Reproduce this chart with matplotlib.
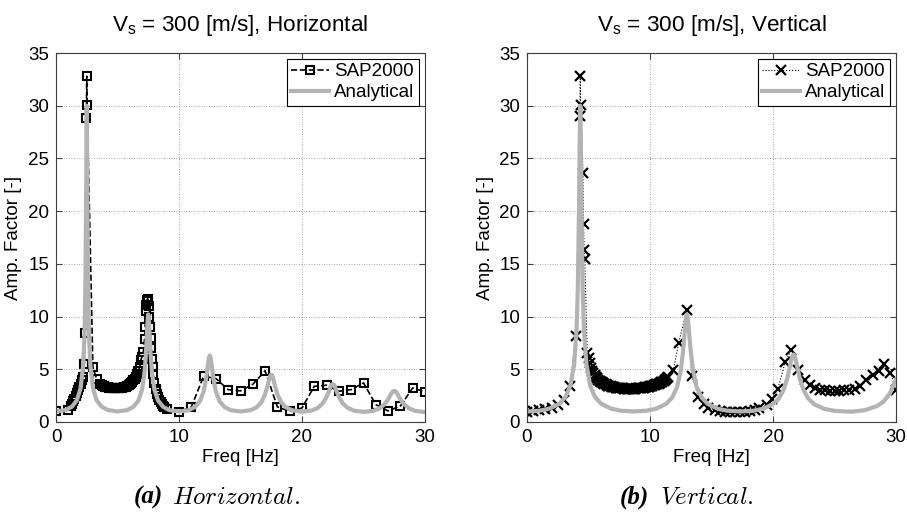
import matplotlib

matplotlib.use("Agg")
import matplotlib.pyplot as plt

plt.rcParams.update({
    "font.family": ["Liberation Sans", "DejaVu Sans"],
    "font.size": 13.5,
    "mathtext.fontset": "custom",
    "mathtext.rm": "Liberation Sans",
    "mathtext.it": "Liberation Sans:italic",
    "mathtext.bf": "Liberation Sans:bold",
})

GRAY = "#b3b3b3"

# Horizontal: SAP2000 results
h_sap_freq = [0.0, 1.0, 1.2, 1.3, 1.4, 1.5, 1.6, 1.7, 1.8, 1.9, 2.0, 2.1, 2.2,
              2.3, 2.35, 2.47, 2.5, 2.53, 3.0, 3.3,
              3.6, 3.7, 3.8, 3.9, 4.0, 4.1, 4.2, 4.3, 4.4, 4.5, 4.6, 4.7, 4.8,
              4.9, 5.0, 5.1, 5.2, 5.3, 5.4, 5.5, 5.6, 5.7, 5.8, 5.9, 6.0, 6.1,
              6.2, 6.3, 6.4, 6.5, 6.6, 6.7, 6.8, 6.9, 7.0, 7.1, 7.2, 7.25, 7.3,
              7.35, 7.4, 7.45, 7.5, 7.55, 7.6, 7.65, 7.7, 7.75, 7.8, 7.85, 7.9,
              8.0, 8.1, 8.2, 8.3, 8.4, 8.5, 8.6, 8.7, 8.8, 9.0, 10.0, 11.0, 12.0,
              13.0, 14.0, 15.0, 16.0, 17.0, 18.0, 19.0, 20.0, 21.0, 22.0, 23.0,
              24.0, 25.0, 26.0, 27.0, 28.0, 29.0, 30.0]
h_sap_amp = [1.0, 1.18, 1.5, 1.7, 1.95, 2.2, 2.45, 2.75, 3.05, 3.35, 3.65, 3.95,
             4.3, 5.5, 8.4, 28.8, 32.8, 30.1, 5.2, 4.1,
             3.6, 3.5, 3.45, 3.4, 3.35, 3.3, 3.28, 3.25, 3.22, 3.2, 3.2, 3.18,
             3.18, 3.18, 3.18, 3.18, 3.2, 3.22, 3.25, 3.28, 3.32, 3.36, 3.42,
             3.5, 3.58, 3.68, 3.8, 3.95, 4.1, 4.3, 4.55, 4.85, 5.2, 5.9, 6.2,
             6.6, 7.9, 9.0, 10.5, 11.1, 11.6, 11.7, 11.5, 11.0, 10.0, 9.0, 8.0,
             7.0, 6.0, 5.2, 4.6, 3.7, 3.1, 2.7, 2.4, 2.1, 1.9, 1.7, 1.55, 1.4,
             1.27, 0.95, 1.43, 4.34, 4.12, 3.07, 2.95, 3.58, 4.85, 1.43, 1.02,
             1.33, 3.39, 3.49, 2.92, 3.07, 3.71, 1.65, 1.05, 1.52, 3.23, 2.85]

# Horizontal: analytical curve
h_ana_freq = [0.0, 0.8, 1.3, 1.7, 2.0, 2.2, 2.3, 2.35, 2.4, 2.45, 2.5, 2.55, 2.6,
              2.65, 2.7, 2.8, 3.0, 3.3, 3.7, 4.2, 5.0, 5.8, 6.3, 6.7, 7.0, 7.2,
              7.3, 7.35, 7.4, 7.45, 7.5, 7.55, 7.6, 7.65, 7.7, 7.8, 8.0, 8.3,
              8.7, 9.2, 10.0, 10.8, 11.3, 11.7, 12.0, 12.2, 12.3, 12.35, 12.4,
              12.45, 12.5, 12.55, 12.6, 12.65, 12.7, 12.8, 13.0, 13.3, 13.7,
              14.2, 15.0, 15.8, 16.3, 16.7, 17.0, 17.2, 17.3, 17.35, 17.4,
              17.45, 17.5, 17.55, 17.6, 17.65, 17.7, 17.8, 18.0, 18.3, 18.7,
              19.2, 20.0, 20.8, 21.3, 21.7, 22.0, 22.2, 22.3, 22.4, 22.5, 22.6,
              22.7, 22.8, 23.0, 23.3, 23.7, 24.2, 25.0, 25.8, 26.3, 26.7, 27.0,
              27.2, 27.3, 27.4, 27.5, 27.6, 27.7, 27.8, 28.0, 28.3, 28.7, 29.2,
              30.0]
h_ana_amp = [1.0, 1.14, 1.46, 2.07, 3.22, 5.26, 7.71, 10.0, 14.1, 21.8, 30.0, 21.8,
             14.1, 10.0, 7.71, 5.26, 3.22, 2.07, 1.46, 1.14, 1.0, 1.13, 1.45,
             2.03, 3.08, 4.73, 6.29, 7.36, 8.59, 9.71, 10.2, 9.71, 8.59, 7.36,
             6.29, 4.73, 3.08, 2.03, 1.45, 1.13, 1.0, 1.12, 1.42, 1.97, 2.88,
             4.07, 4.94, 5.42, 5.86, 6.18, 6.3, 6.18, 5.86, 5.42, 4.94, 4.07,
             2.88, 1.97, 1.42, 1.12, 1.0, 1.11, 1.39, 1.88, 2.63, 3.44, 3.92,
             4.14, 4.33, 4.45, 4.5, 4.45, 4.33, 4.14, 3.92, 3.44, 2.63, 1.88,
             1.39, 1.11, 0.98, 1.09, 1.35, 1.79, 2.38, 2.93, 3.3, 3.52, 3.6,
             3.52, 3.3, 2.93, 2.38, 1.79, 1.35, 1.09, 0.96, 1.06, 1.3, 1.68,
             2.14, 2.59, 2.77, 2.91, 2.95, 2.91, 2.77, 2.59, 2.14, 1.68, 1.3,
             1.06, 0.94]

# Vertical: SAP2000 results
v_sap_freq = [0.0, 0.5, 1.0, 1.5, 2.0, 2.5, 3.0, 3.5, 4.0, 4.28, 4.33, 4.36, 4.55,
              4.6, 4.65, 4.7, 4.9, 5.0, 5.1,
              5.2, 5.3, 5.4, 5.5, 5.6, 5.7, 5.8, 5.9, 6.0, 6.1, 6.2, 6.3, 6.4,
              6.5, 6.6, 6.7, 6.8, 6.9, 7.0, 7.1, 7.2, 7.3, 7.4, 7.5, 7.6, 7.7,
              7.8, 7.9, 8.0, 8.1, 8.2, 8.3, 8.4, 8.5, 8.6, 8.7, 8.8, 8.9, 9.0,
              9.1, 9.2, 9.3, 9.4, 9.5, 9.6, 9.7, 9.8, 9.9, 10.0, 10.1, 10.2,
              10.3, 10.4, 10.5, 10.6, 10.7, 10.8, 10.9, 11.0, 11.1, 11.2, 11.3,
              11.4, 11.5,
              11.9, 12.33, 13.0, 13.4, 13.94, 14.35, 14.75, 15.3, 15.7, 16.1,
              16.5, 16.9, 17.3, 17.7, 18.1, 18.5, 18.9, 19.5, 19.9, 20.4, 21.0,
              21.5, 22.06, 22.6, 23.0, 23.4, 23.8, 24.2, 24.6, 25.0, 25.4, 25.8,
              26.2, 26.7, 27.1, 27.6, 28.15, 28.6, 29.0, 29.55, 30.0]
v_sap_amp = [0.97, 1.03, 1.1, 1.2, 1.35, 1.6, 2.1, 3.4, 8.2, 29.0, 32.8, 30.1, 23.6,
             18.8, 16.3, 15.5, 6.5, 6.1, 5.6,
             5.1, 4.85, 4.65, 4.45, 4.3, 4.15, 4.02, 3.92, 3.83, 3.75, 3.68,
             3.62, 3.56, 3.51, 3.46, 3.42, 3.38, 3.35, 3.32, 3.29, 3.27, 3.25,
             3.23, 3.21, 3.2, 3.19, 3.18, 3.17, 3.16, 3.15, 3.15, 3.15, 3.15,
             3.15, 3.15, 3.16, 3.17, 3.18, 3.19, 3.2, 3.21, 3.23, 3.25, 3.27,
             3.29, 3.31, 3.33, 3.36, 3.39, 3.42, 3.45, 3.48, 3.52, 3.56, 3.6,
             3.65, 3.7, 3.76, 3.82, 3.89, 3.96, 4.05, 4.15, 4.3,
             4.9, 7.5, 10.67, 4.34, 2.38, 1.74, 1.37, 1.11, 1.0, 0.95,
             0.93, 0.92, 0.93, 0.95, 1.0, 1.1, 1.3, 1.6, 2.2, 3.17, 5.7, 6.87,
             4.9, 4.0, 3.49, 3.26, 3.07, 3.0, 2.95, 2.95, 2.95, 3.0, 3.05, 3.17,
             3.39, 3.96, 4.43, 4.85, 5.48, 4.66, 3.0]

# Vertical: analytical curve
v_ana_freq = [0.0, 1.03, 1.83, 2.63, 3.13, 3.53, 3.83, 4.03, 4.13, 4.23, 4.28, 4.33,
              4.38, 4.43, 4.53, 4.63, 4.83, 5.13, 5.53, 6.03, 6.83, 7.63, 8.67,
              9.7, 10.5, 11.3, 11.8, 12.2, 12.5, 12.7, 12.8, 12.9, 12.95, 13.0,
              13.05, 13.1, 13.2, 13.3, 13.5, 13.8, 14.2, 14.7, 15.5, 16.3, 17.33,
              18.37, 19.17, 19.97, 20.47, 20.87, 21.17, 21.37, 21.47, 21.57,
              21.62, 21.67, 21.72, 21.77, 21.87, 21.97, 22.17, 22.47, 22.87,
              23.37, 24.17, 24.97, 26.0, 26.5, 27.5, 28.5, 29.0, 29.5, 30.0]
v_ana_amp = [1.0, 1.07, 1.27, 1.73, 2.37, 3.47, 5.46, 8.8, 12.5, 20.3, 26.4, 30.0,
             26.4, 20.3, 12.5, 8.8, 5.46, 3.47, 2.37, 1.73, 1.27, 1.07, 1.0,
             1.07, 1.26, 1.71, 2.31, 3.31, 4.87, 6.84, 8.2, 9.57, 10.03, 10.2,
             10.03, 9.57, 8.2, 6.84, 4.87, 3.31, 2.31, 1.71, 1.26, 1.07, 1.0,
             1.06, 1.25, 1.67, 2.22, 3.07, 4.19, 5.26, 5.81, 6.24, 6.36, 6.4,
             6.36, 6.24, 5.81, 5.26, 4.19, 3.07, 2.22, 1.67, 1.25, 1.06, 0.99,
             0.99, 1.13, 1.53, 1.95, 2.72, 4.03]


def style_axes(ax, title):
    ax.set_xlim(0, 30)
    ax.set_ylim(0, 35)
    ax.set_xticks([0, 10, 20, 30])
    ax.set_yticks(range(0, 36, 5))
    ax.grid(True, color="#8c8c8c", ls=(0, (1, 2)), lw=0.6)
    ax.tick_params(direction="in", length=4, top=True, right=True, pad=5,
                   color="#404040")
    for s in ax.spines.values():
        s.set_color("#404040")
        s.set_linewidth(0.8)
    ax.set_title(title, pad=16)
    ax.set_xlabel("Freq [Hz]", labelpad=2)
    ax.set_ylabel("Amp. Factor [-]", labelpad=4)
    leg = ax.legend(loc="upper right", fancybox=False, framealpha=1,
                    edgecolor="black", borderaxespad=0.3, borderpad=0.25,
                    labelspacing=0.2, handlelength=2.0, handletextpad=0.3)
    leg.get_frame().set_linewidth(0.8)


fig = plt.figure(figsize=(9.07, 5.15), dpi=100)
ax1 = fig.add_axes([56 / 907, 93 / 515, 369 / 907, 369 / 515])
ax2 = fig.add_axes([527 / 907, 93 / 515, 369 / 907, 369 / 515])

ax1.plot(h_sap_freq, h_sap_amp, color="black", ls="--", lw=1.2, marker="s",
         ms=5.5, mfc="none", mew=1.5, label="SAP2000")
ax1.plot(h_ana_freq, h_ana_amp, color=GRAY, lw=3, label="Analytical")
style_axes(ax1, r"V$_\mathrm{s}$ = 300 [m/s], Horizontal")

ax2.plot(v_sap_freq, v_sap_amp, color="black", ls=":", lw=0.8, marker="x",
         ms=6.5, mew=1.6, label="SAP2000")
ax2.plot(v_ana_freq, v_ana_amp, color=GRAY, lw=3, label="Analytical")
style_axes(ax2, r"V$_\mathrm{s}$ = 300 [m/s], Vertical")

# subfigure captions
cap_y = 1 - 497 / 515
for x_tag, x_word, tag, word in [(163, 172, "(a)", "Horizontal."),
                                 (649, 660, "(b)", "Vertical.")]:
    fig.text(x_tag / 907, cap_y, tag, ha="right", va="center", fontsize=18,
             family="Liberation Serif", style="italic", weight="bold")
    fig.text(x_word / 907, cap_y, r"$\mathit{" + word + "}$", ha="left",
             va="center", fontsize=18, math_fontfamily="cm")

fig.savefig("out.png", dpi=100)
